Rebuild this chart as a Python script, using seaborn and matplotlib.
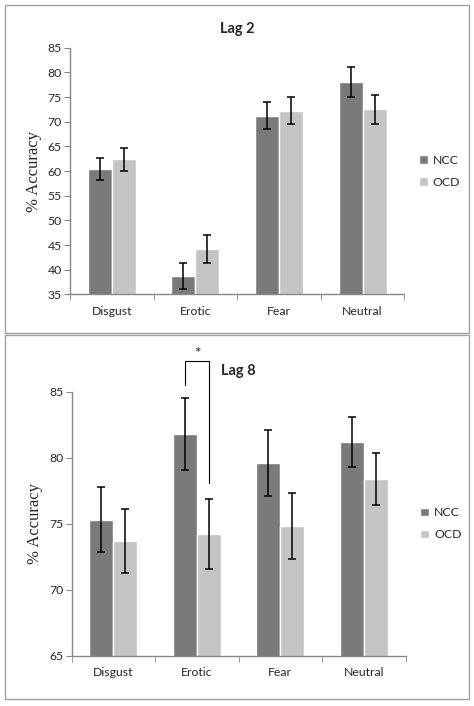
import numpy as np
import pandas as pd
import matplotlib
matplotlib.use('Agg')
import matplotlib.pyplot as plt
from matplotlib.patches import Rectangle
from matplotlib.ticker import FixedLocator
import seaborn as sns

# Categories and groups
emotions = ['Disgust', 'Erotic', 'Fear', 'Neutral']
groups = ['NCC', 'OCD']

# Lag 2 means and error bars (% accuracy)
lag2_ncc = [60.4, 38.7, 71.2, 78.0]
lag2_ocd = [62.4, 44.2, 72.2, 72.5]
lag2_ncc_err = [2.3, 2.7, 2.7, 3.0]
lag2_ocd_err = [2.3, 2.8, 2.7, 3.0]

# Lag 8 means and error bars (% accuracy)
lag8_ncc = [75.3, 81.8, 79.6, 81.2]
lag8_ocd = [73.7, 74.2, 74.8, 78.4]
lag8_ncc_err = [2.45, 2.7, 2.5, 1.9]
lag8_ocd_err = [2.4, 2.65, 2.5, 1.95]

colors = ['#7a7a7a', '#c4c4c4']
axis_grey = '#888888'

sns.set_style('white')
plt.rcParams['font.family'] = ['Lato', 'DejaVu Sans']


def make_df(ncc, ocd):
    df = pd.DataFrame({'emotion': emotions * 2,
                       'group': ['NCC'] * 4 + ['OCD'] * 4,
                       'acc': list(ncc) + list(ocd)})
    return df


def draw_panel(ax, df, errs, title, ylim, yticks, title_y):
    sns.barplot(data=df, x='emotion', y='acc', hue='group', hue_order=groups,
                palette=colors, width=0.575, errorbar=None, saturation=1,
                ax=ax)
    # error bars on each bar
    for cont, err in zip(ax.containers, errs):
        xs = [b.get_x() + b.get_width() / 2 for b in cont]
        ys = [b.get_height() for b in cont]
        ax.errorbar(xs, ys, yerr=err, fmt='none', ecolor='black',
                    elinewidth=1.1, capsize=3, capthick=1.1)
    ax.set_ylim(*ylim)
    ax.set_xlim(-0.5, 3.5)
    ax.set_yticks(yticks)
    ax.tick_params(axis='y', labelsize=8.8, length=4, color=axis_grey,
                   direction='out', left=True, pad=2)
    ax.tick_params(axis='x', which='major', length=0, labelsize=8.8, pad=8)
    ax.xaxis.set_minor_locator(FixedLocator([-0.5, 0.5, 1.5, 2.5, 3.5]))
    ax.tick_params(axis='x', which='minor', length=4, color=axis_grey,
                   direction='out', bottom=True)
    for s in ['top', 'right']:
        ax.spines[s].set_visible(False)
    for s in ['left', 'bottom']:
        ax.spines[s].set_color(axis_grey)
        ax.spines[s].set_linewidth(1)
    ax.set_xlabel('')
    ax.set_ylabel('% Accuracy', family='Liberation Serif', fontsize=12,
                  labelpad=4)
    ax.set_title(title, fontsize=10.5, fontweight='bold', y=title_y, pad=0)
    ax.legend(loc='center left', bbox_to_anchor=(1.03, 0.5), frameon=False,
              fontsize=8.8, handlelength=0.7, handleheight=0.7,
              handletextpad=0.4, labelspacing=0.9, borderaxespad=0)


fig = plt.figure(figsize=(4.74, 7.06), dpi=100)
ax1 = fig.add_axes([0.148, 0.583, 0.705, 0.3495])
ax2 = fig.add_axes([0.151, 0.0712, 0.7046, 0.374])

draw_panel(ax1, make_df(lag2_ncc, lag2_ocd), [lag2_ncc_err, lag2_ocd_err],
           'Lag 2', (35, 85), range(35, 86, 5), 1.06)

draw_panel(ax2, make_df(lag8_ncc, lag8_ocd), [lag8_ncc_err, lag8_ocd_err],
           'Lag 8', (65, 85), range(65, 86, 5), 1.065)

# significance bracket for Erotic in Lag 8
ncc_bar = ax2.containers[0][1]
ocd_bar = ax2.containers[1][1]
xl = ncc_bar.get_x() + ncc_bar.get_width() / 2
xr = ocd_bar.get_x() + ocd_bar.get_width() / 2
ax2.plot([xl, xl, xr, xr], [85.5, 87.3, 87.3, 78.1], color='black', lw=0.8,
         clip_on=False)
ax2.text((xl + xr) / 2, 87.35, '*', ha='center', va='bottom', fontsize=11,
         clip_on=False)

# panel frames
fig.add_artist(Rectangle((5 / 474, 1 - 333 / 706), 464 / 474, 328 / 706,
                         transform=fig.transFigure, fill=False,
                         ec='#a0a0a0', lw=1))
fig.add_artist(Rectangle((5 / 474, 1 - 699 / 706), 464 / 474, 364 / 706,
                         transform=fig.transFigure, fill=False,
                         ec='#a0a0a0', lw=1))

fig.savefig('out.png', dpi=100, facecolor='white')
